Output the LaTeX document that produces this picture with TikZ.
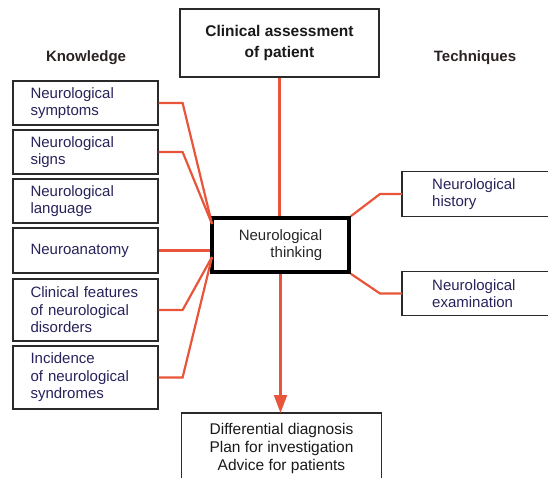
\documentclass[tikz,border=0pt]{standalone}
\usepackage{fontspec}
\setmainfont{Liberation Sans}
\usetikzlibrary{arrows.meta}
\definecolor{connred}{HTML}{E8553B}
\definecolor{ink}{HTML}{27225A}
\definecolor{boxline}{HTML}{2A2A2A}
\definecolor{labink}{HTML}{2B2222}
\begin{document}
\begin{tikzpicture}[x=1pt,y=-1pt,
  kbox/.style={draw=boxline, line width=1.2pt, minimum width=145pt, minimum height=44pt,
    text width=110pt, align=left, inner xsep=0pt, inner ysep=2pt,
    font=\fontsize{15}{17.5}\selectfont, text=ink},
  tbox/.style={draw=none, minimum height=44pt, anchor=west,
    text width=110pt, align=left, inner xsep=30pt, inner ysep=2pt,
    font=\fontsize{15}{17.5}\selectfont, text=ink},
  outline/.style={draw=boxline, line width=1.2pt},
  link/.style={draw=connred, line width=2.2pt},
  lab/.style={font=\bfseries\fontsize{15}{18}\selectfont, text=labink}]
\useasboundingbox (0,0) rectangle (548,478);

% labels
\node[lab] (kl) at (86,58) {Knowledge};
\node[lab] (tl) at (475,58) {Techniques};

% top box
\node (t) [draw=boxline, line width=1.2pt, minimum width=199pt, minimum height=68pt,
  align=center, font=\bfseries\fontsize{15.5}{21.5}\selectfont, text=black!90]
  at (279.5,43) {Clinical assessment\\of patient};

% centre box
\node (c) [draw=black, line width=3.5pt, minimum width=137pt, minimum height=54pt,
  align=right, font=\fontsize{15}{17.5}\selectfont, text=black!85]
  at (280.5,245) {Neurological\\thinking};

% knowledge boxes
\node[kbox] (k1) at (85.5,103) {Neurological\\symptoms};
\node[kbox] (k2) at (85.5,152) {Neurological\\signs};
\node[kbox] (k3) at (85.5,201) {Neurological\\language};
\node[kbox, minimum height=45pt] (k4) at (85.5,250.5) {Neuroanatomy};
\node[kbox, minimum height=62pt] (k5) at (85.5,310) {Clinical features\\of neurological\\disorders};
\node[kbox, minimum height=63pt] (k6) at (85.5,377.5) {Incidence\\of neurological\\syndromes};

% technique boxes (open on the right)
\coordinate (rb) at (548,0);
\node[tbox] (h) at (402,194) {Neurological\\history};
\node[tbox] (e) at (402,293.5) {Neurological\\examination};
\draw[outline] (h.north west -| rb) -- (h.north west) -- (h.south west) -- (h.south west -| rb);
\draw[outline] (e.north west -| rb) -- (e.north west) -- (e.south west) -- (e.south west -| rb);

% bottom box (open at the bottom)
\coordinate (bb) at (0,478);
\node (b) [minimum width=199pt, minimum height=70pt, anchor=north, align=center,
  font=\fontsize{15.5}{18}\selectfont, text=black!90] at (281.5,413)
  {Differential diagnosis\\Plan for investigation\\Advice for patients};
\draw[outline] (b.north west |- bb) -- (b.north west) -- (b.north east) -- (b.north east |- bb);

% connectors
\coordinate (cu) at (212,224);
\coordinate (cl) at (212,257);
\draw[link] (k1.east) -- ++(24,0) -- (cu);
\draw[link] (k2.east) -- ++(24,0) -- (cu);
\draw[link] (k4.east) -- (k4.east -| c.west);
\draw[link] (k5.east) -- ++(24,0) -- (cl);
\draw[link] (k6.east) -- ++(24,0) -- (cl);
\draw[link] (c.north east) -- ([xshift=-22pt]h.west) -- (h.west);
\draw[link] (c.south east) -- ([xshift=-22pt]e.west) -- (e.west);
\draw[link] (t.south) -- (t.south |- c.north);
\draw[link, -{Triangle[width=13pt,length=18pt]}] (c.south) -- (c.south |- b.north);
\end{tikzpicture}
\end{document}
